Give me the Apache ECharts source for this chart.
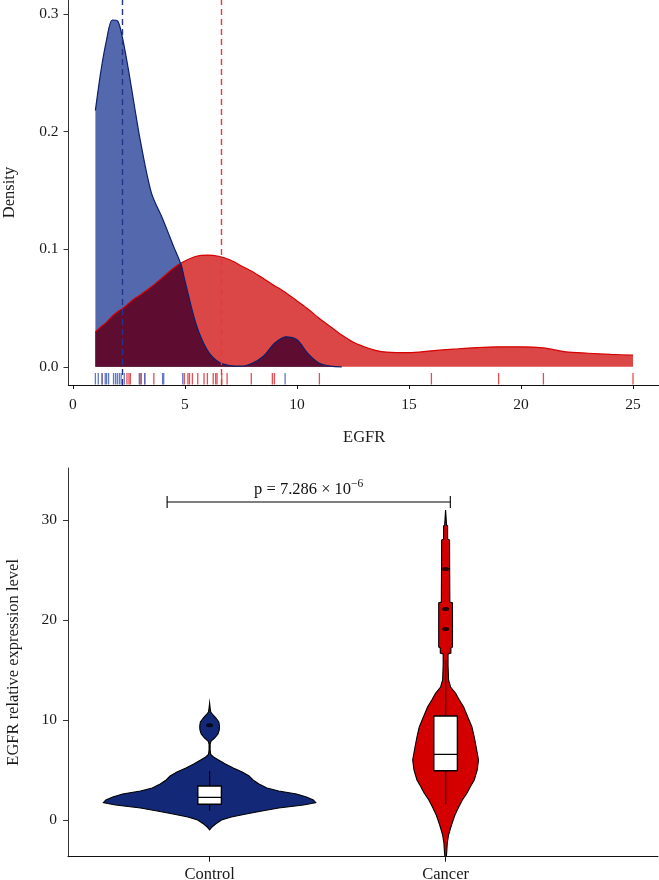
<!DOCTYPE html>
<html><head><meta charset="utf-8">
<script src="https://cdn.jsdelivr.net/npm/echarts@6/dist/echarts.min.js"></script>
<style>html,body{margin:0;padding:0;background:#fff}#c{width:659px;height:880px}</style>
</head><body><div id="c"></div>
<script>
// ---------- Data: density plot ----------
const densX = [1, 1.25, 1.5, 1.75, 2, 2.25, 2.5, 2.75, 3, 3.5, 4, 4.5, 4.8, 5, 5.5, 6, 6.5, 7, 7.5, 8, 8.5, 9, 9.5, 10, 10.5, 11, 11.5, 12, 12.5, 13, 13.5, 14, 15, 16, 17, 18, 19, 20, 21, 22, 23, 24, 25];
const densControl = [0.218, 0.252, 0.278, 0.295, 0.294, 0.276, 0.250, 0.221, 0.193, 0.148, 0.126, 0.102, 0.088, 0.073, 0.036, 0.014, 0.004, 0.001, 0.0005, 0.003, 0.009, 0.020, 0.0255, 0.023, 0.011, 0.003, 0.0005, 0, 0, 0, 0, 0, 0, 0, 0, 0, 0, 0, 0, 0, 0, 0, 0];
const densCancer = [0.0297, 0.034, 0.038, 0.043, 0.047, 0.050, 0.054, 0.058, 0.061, 0.068, 0.076, 0.084, 0.088, 0.090, 0.094, 0.095, 0.094, 0.091, 0.086, 0.081, 0.075, 0.069, 0.063, 0.056, 0.049, 0.041, 0.034, 0.027, 0.021, 0.017, 0.014, 0.0125, 0.012, 0.0136, 0.015, 0.0163, 0.017, 0.017, 0.016, 0.0127, 0.0115, 0.0105, 0.0099];
const rugControl = [1.0, 1.13, 1.3, 1.44, 1.5, 1.59, 1.81, 1.9, 1.98, 2.07, 2.15, 2.29, 2.96, 3.05, 3.2, 4.0, 4.05, 4.9, 9.47];
const rugCancer = [1.3, 2.41, 2.5, 2.56, 3.0, 3.21, 3.61, 4.97, 5.13, 5.2, 5.33, 5.57, 5.85, 6.0, 6.26, 6.37, 6.43, 6.64, 6.88, 7.96, 8.9, 8.99, 11.0, 16.0, 19.0, 21.0, 25.0];
const medianControl = 2.2;
const medianCancer = 6.64;
const densXTicks = [0, 5, 10, 15, 20, 25];
const densYTicks = [0, 0.1, 0.2, 0.3];

// ---------- Data: violin plot ----------
const categories = ['Control', 'Cancer'];
const violinYControl = [-1.0, -0.7, -0.4, 0.0, 0.3, 0.6, 0.9, 1.2, 1.5, 1.73, 2.0, 2.3, 2.6, 2.9, 3.2, 3.6, 4.0, 4.4, 4.8, 5.2, 5.6, 6.0, 6.3, 6.55, 7.0, 7.6, 7.9, 8.2, 8.6, 9.0, 9.4, 9.8, 10.2, 10.5, 10.8, 11.2, 11.7];
const violinWControl = [0, 0.023, 0.056, 0.112, 0.205, 0.344, 0.493, 0.651, 0.884, 1.0, 0.977, 0.912, 0.819, 0.651, 0.540, 0.465, 0.409, 0.372, 0.307, 0.223, 0.149, 0.084, 0.037, 0.011, 0.005, 0.005, 0.014, 0.047, 0.079, 0.091, 0.093, 0.087, 0.060, 0.033, 0.011, 0.005, 0];
const violinYCancer = [-4.5, -3.7, -3.0, -2.3, -1.5, -0.8, -0.3, 0.5, 1.3, 2.0, 2.7, 3.4, 4.0, 5.0, 6.0, 7.3, 8.3, 9.3, 10.3, 11.3, 12.0, 12.7, 13.3, 14.0, 15.5, 16.6, 16.7, 17.2, 17.3, 21.7, 21.8, 28.0, 28.1, 29.4, 29.5, 31.0];
const violinWCancer = [0, 0.007, 0.012, 0.016, 0.028, 0.047, 0.062, 0.088, 0.124, 0.158, 0.202, 0.237, 0.270, 0.298, 0.310, 0.288, 0.270, 0.248, 0.209, 0.170, 0.130, 0.093, 0.047, 0.028, 0.023, 0.023, 0.050, 0.050, 0.065, 0.065, 0.040, 0.037, 0.019, 0.019, 0.009, 0];
// [lower whisker, Q1, median, Q3, upper whisker]
const boxControl = [0.93, 1.57, 2.27, 3.4, 4.9];
const boxCancer = [1.57, 4.93, 6.57, 10.4, 16.0];
const outliersControl = [9.47];
const outliersCancer = [19.1, 21.1, 25.1];
const exprYTicks = [0, 10, 20, 30];
const pBracket = [0.82, 2.02, 31.8];
const pText = 'p = 7.286 × 10';
const pExp = '−6';

// ---------- Chart ----------
const SERIF = '"Liberation Serif", "DejaVu Serif", serif';
const chart = echarts.init(document.getElementById('c'), null, {renderer: 'canvas'});
const pairs = (xs, ys) => xs.map((x, i) => [x, ys[i]]);
const overlap = densX.map((x, i) => [x, Math.min(densControl[i], densCancer[i])]);
const blueLineData = pairs(densX, densControl).filter(p => p[0] <= 12);
const D_YMIN = -0.0155, D_YMAX = 0.312;

function rugSeries(vals, color) {
  return {
    type: 'custom', xAxisIndex: 0, yAxisIndex: 0, silent: true, z: 5,
    data: vals.map(v => [v, D_YMIN]),
    renderItem: (params, api) => {
      const p = api.coord([api.value(0), D_YMIN]);
      return {type: 'line', shape: {x1: p[0], y1: p[1] - 0.5, x2: p[0], y2: p[1] - 12},
        style: {stroke: color, lineWidth: 1.3}};
    }
  };
}

const smoothOpt = {smooth: 0.3};
const axisTextStyle = {color: '#1a1a1a', fontFamily: SERIF, fontSize: 15.5};
const nameStyle = {color: '#1a1a1a', fontFamily: SERIF, fontSize: 16.5};

const option = {
  animation: false,
  backgroundColor: '#fff',
  grid: [
    {left: 68.5, top: 0, width: 591.4, height: 385, outerBoundsMode: 'none', containLabel: false},
    {left: 68, top: 468, width: 590, height: 388.7, outerBoundsMode: 'none', containLabel: false}
  ],
  xAxis: [
    {gridIndex: 0, type: 'value', min: -0.2, max: 26.2,
      axisLine: {onZero: false, lineStyle: {color: '#111', width: 1}},
      axisTick: {customValues: densXTicks, length: 4, lineStyle: {color: '#111'}},
      axisLabel: Object.assign({customValues: densXTicks, margin: 12}, axisTextStyle),
      splitLine: {show: false},
      name: 'EGFR', nameLocation: 'middle', nameGap: 44, nameTextStyle: nameStyle},
    {gridIndex: 1, type: 'value', min: 0.4, max: 2.9,
      axisLine: {onZero: false, lineStyle: {color: '#111', width: 1}},
      axisTick: {customValues: [1, 2], length: 5, lineStyle: {color: '#111'}},
      axisLabel: Object.assign({customValues: [1, 2], margin: 9,
        formatter: v => categories[Math.round(v) - 1]}, axisTextStyle, {fontSize: 16.5}),
      splitLine: {show: false}}
  ],
  yAxis: [
    {gridIndex: 0, type: 'value', min: D_YMIN, max: D_YMAX,
      axisLine: {show: true, onZero: false, lineStyle: {color: '#333', width: 1}},
      axisTick: {show: true, customValues: densYTicks, length: 5, lineStyle: {color: '#333'}},
      axisLabel: Object.assign({customValues: densYTicks, margin: 10,
        formatter: v => v.toFixed(1)}, axisTextStyle),
      splitLine: {show: false},
      name: 'Density', nameLocation: 'middle', nameGap: 50, nameRotate: 90, nameTextStyle: nameStyle},
    {gridIndex: 1, type: 'value', min: -3.67, max: 35.2,
      axisLine: {show: true, onZero: false, lineStyle: {color: '#333', width: 1}},
      axisTick: {show: true, customValues: exprYTicks, length: 5, lineStyle: {color: '#333'}},
      axisLabel: Object.assign({customValues: exprYTicks, margin: 11}, axisTextStyle),
      splitLine: {show: false},
      name: 'EGFR relative expression level', nameLocation: 'middle', nameGap: 46, nameRotate: 90,
      nameTextStyle: nameStyle}
  ],
  series: [
    Object.assign({type: 'line', xAxisIndex: 0, yAxisIndex: 0, data: pairs(densX, densCancer),
      showSymbol: false, lineStyle: {width: 0}, areaStyle: {color: '#DB4747', opacity: 1}, z: 1}, smoothOpt),
    Object.assign({type: 'line', xAxisIndex: 0, yAxisIndex: 0, data: pairs(densX, densControl),
      showSymbol: false, lineStyle: {width: 0}, areaStyle: {color: '#5468AE', opacity: 1}, z: 1}, smoothOpt),
    Object.assign({type: 'line', xAxisIndex: 0, yAxisIndex: 0, data: overlap,
      showSymbol: false, lineStyle: {width: 0}, areaStyle: {color: '#5E0C30', opacity: 1}, z: 1}, smoothOpt),
    Object.assign({type: 'line', xAxisIndex: 0, yAxisIndex: 0, data: pairs(densX, densCancer),
      showSymbol: false, lineStyle: {width: 1.2, color: '#D60000'}, z: 2,
      markLine: {symbol: 'none', silent: true, label: {show: false},
        lineStyle: {type: [6, 4], color: '#E8383B', width: 1.4},
        data: [{xAxis: medianCancer}]}}, smoothOpt),
    Object.assign({type: 'line', xAxisIndex: 0, yAxisIndex: 0, data: blueLineData,
      showSymbol: false, lineStyle: {width: 1.2, color: '#0E1E6A'}, z: 2,
      markLine: {symbol: 'none', silent: true, label: {show: false},
        lineStyle: {type: [6, 4], color: '#23348A', width: 1.4},
        data: [{xAxis: medianControl}]}}, smoothOpt),
    rugSeries(rugCancer, 'rgba(224,60,64,0.9)'),
    rugSeries(rugControl, 'rgba(80,105,195,0.9)'),
    {type: 'custom', xAxisIndex: 1, yAxisIndex: 1, clip: true, silent: true, z: 2,
      data: [[1, 0], [2, 0]],
      renderItem: (params, api) => {
        const i = params.dataIndex;
        const ys = i === 0 ? violinYControl : violinYCancer;
        const ws = i === 0 ? violinWControl : violinWCancer;
        const cx = i + 1;
        const pts = [];
        for (let k = 0; k < ys.length; k++) pts.push(api.coord([cx + ws[k] * 0.45, ys[k]]));
        for (let k = ys.length - 1; k >= 0; k--) pts.push(api.coord([cx - ws[k] * 0.45, ys[k]]));
        return {type: 'polygon', shape: {points: pts},
          style: {fill: i === 0 ? '#132877' : '#D40000', stroke: '#000', lineWidth: 1.1}};
      }},
    {type: 'custom', xAxisIndex: 1, yAxisIndex: 1, clip: true, silent: true, z: 3,
      data: [[1, 0], [2, 0]],
      renderItem: (params, api) => {
        const i = params.dataIndex;
        const b = i === 0 ? boxControl : boxCancer;
        const cx = i + 1;
        const lo = api.coord([cx, b[0]]), q1l = api.coord([cx - 0.05, b[1]]), q3r = api.coord([cx + 0.05, b[3]]);
        const med = api.coord([cx, b[2]]), q1 = api.coord([cx, b[1]]), q3 = api.coord([cx, b[3]]), hi = api.coord([cx, b[4]]);
        const st = {stroke: '#000', lineWidth: 1.2};
        return {type: 'group', children: [
          {type: 'line', shape: {x1: lo[0], y1: lo[1], x2: q1[0], y2: q1[1]}, style: st},
          {type: 'line', shape: {x1: q3[0], y1: q3[1], x2: hi[0], y2: hi[1]}, style: st},
          {type: 'rect', shape: {x: q1l[0], y: q3r[1], width: q3r[0] - q1l[0], height: q1l[1] - q3r[1]},
            style: {fill: '#fff', stroke: '#000', lineWidth: 1.4}},
          {type: 'line', shape: {x1: q1l[0], y1: med[1], x2: q3r[0], y2: med[1]}, style: {stroke: '#000', lineWidth: 1.3}}
        ]};
      }},
    {type: 'scatter', xAxisIndex: 1, yAxisIndex: 1, silent: true, z: 4,
      symbol: 'path://M0 5A5 5 0 1 0 10 5A5 5 0 1 0 0 5Z', symbolSize: [7, 4],
      itemStyle: {color: '#000'},
      data: outliersControl.map(v => [1, v]).concat(outliersCancer.map(v => [2, v]))},
    {type: 'custom', xAxisIndex: 1, yAxisIndex: 1, silent: true, z: 5,
      data: [[pBracket[0], pBracket[2]]],
      renderItem: (params, api) => {
        const a = api.coord([pBracket[0], pBracket[2]]);
        const b = api.coord([pBracket[1], pBracket[2]]);
        const st = {stroke: '#000', lineWidth: 1.1};
        return {type: 'group', children: [
          {type: 'line', shape: {x1: a[0], y1: a[1], x2: b[0], y2: b[1]}, style: st},
          {type: 'line', shape: {x1: a[0], y1: a[1] - 6, x2: a[0], y2: a[1] + 6}, style: st},
          {type: 'line', shape: {x1: b[0], y1: b[1] - 6, x2: b[0], y2: b[1] + 6}, style: st},
          {type: 'text', x: (a[0] + b[0]) / 2, y: a[1] - 4,
            style: {text: '{a|' + pText + '}{b|' + pExp + '}', align: 'center', verticalAlign: 'bottom',
              rich: {
                a: {fontSize: 16.5, fontFamily: SERIF, fill: '#111', lineHeight: 20, verticalAlign: 'bottom'},
                b: {fontSize: 11.5, fontFamily: SERIF, fill: '#111', lineHeight: 20, verticalAlign: 'top'}
              }}}
        ]};
      }}
  ]
};
chart.setOption(option);
</script>
</body></html>
